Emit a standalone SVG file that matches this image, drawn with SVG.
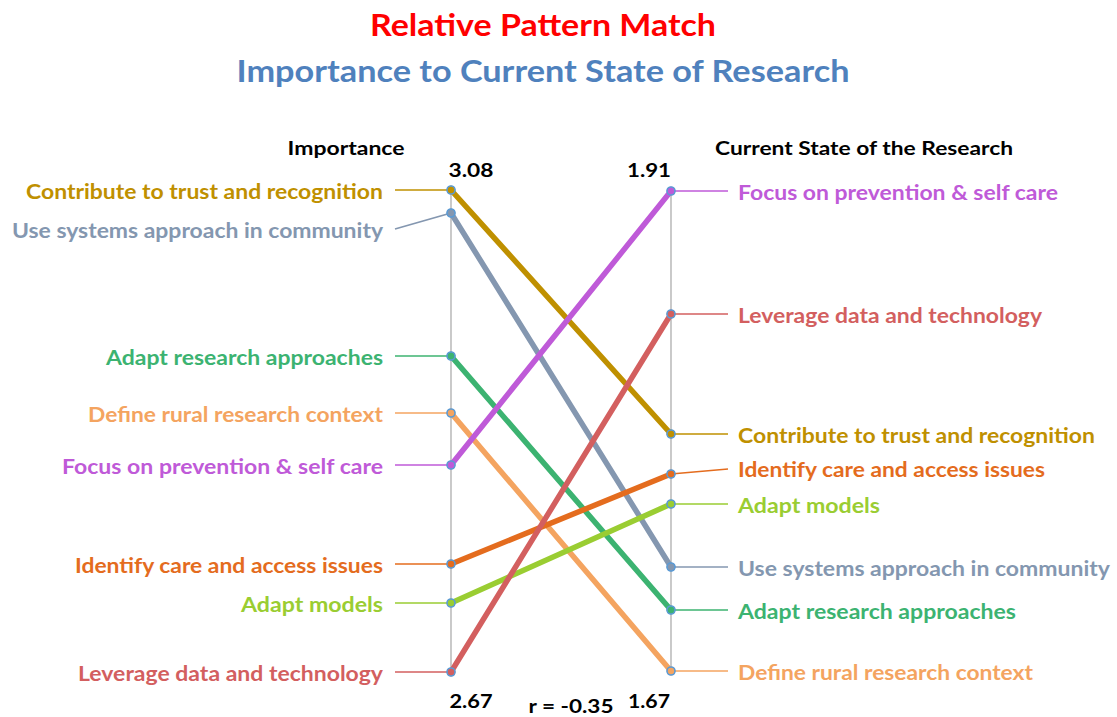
<svg xmlns="http://www.w3.org/2000/svg" width="1117" height="717" viewBox="0 0 1117 717">
<style>
text{font-family:Lato,"Open Sans","Liberation Sans",sans-serif;font-weight:bold}
.lab{font-size:20px}
.hd{font-size:18px;fill:#000}
.num{font-size:19px;fill:#000}
.ax{stroke:#A6A6A6;stroke-width:1.2;fill:none}
.slope{stroke-width:5.5;fill:none;stroke-linecap:round}
.lead{stroke-width:1.6;fill:none}
.mk{stroke:#5B9BD5;stroke-width:1.6}
.c1{stroke:#BF9000;fill:#BF9000}
.c2{stroke:#8497B0;fill:#8497B0}
.c3{stroke:#3CB371;fill:#3CB371}
.c4{stroke:#F4A460;fill:#F4A460}
.c5{stroke:#BF5AD8;fill:#BF5AD8}
.c6{stroke:#E46C1E;fill:#E46C1E}
.c7{stroke:#9ACD32;fill:#9ACD32}
.c8{stroke:#D35F5F;fill:#D35F5F}
</style>
<rect width="1117" height="717" fill="#fff"/>
<g id="title">
<text x="543" y="36" text-anchor="middle" font-size="30" fill="#FF0000" textLength="346" lengthAdjust="spacingAndGlyphs">Relative Pattern Match</text>
<text x="543" y="82" text-anchor="middle" font-size="30" fill="#4F81BD" textLength="613" lengthAdjust="spacingAndGlyphs">Importance to Current State of Research</text>
</g>
<g id="axes">
<line class="ax" x1="451" y1="190" x2="451" y2="672"/>
<line class="ax" x1="671" y1="191" x2="671" y2="672"/>
<text class="hd" x="346" y="155" text-anchor="middle" textLength="117" lengthAdjust="spacingAndGlyphs">Importance</text>
<text class="hd" x="864" y="155" text-anchor="middle" textLength="298" lengthAdjust="spacingAndGlyphs">Current State of the Research</text>
<text class="num" x="471" y="177" text-anchor="middle" textLength="45" lengthAdjust="spacingAndGlyphs">3.08</text>
<text class="num" x="649" y="177" text-anchor="middle" textLength="44" lengthAdjust="spacingAndGlyphs">1.91</text>
<text class="num" x="471" y="708" text-anchor="middle" textLength="43" lengthAdjust="spacingAndGlyphs">2.67</text>
<text class="num" x="649" y="708" text-anchor="middle" textLength="42" lengthAdjust="spacingAndGlyphs">1.67</text>
<text class="num" x="571" y="713" text-anchor="middle" textLength="85" lengthAdjust="spacingAndGlyphs">r = -0.35</text>
</g>
<g id="connectors">
<line class="lead c1" x1="395" y1="190" x2="451" y2="190"/>
<line class="lead c2" x1="395" y1="229" x2="451" y2="213"/>
<line class="lead c3" x1="395" y1="356" x2="451" y2="356"/>
<line class="lead c4" x1="395" y1="413" x2="451" y2="413"/>
<line class="lead c5" x1="395" y1="465" x2="451" y2="465"/>
<line class="lead c6" x1="395" y1="564" x2="451" y2="564"/>
<line class="lead c7" x1="395" y1="603" x2="451" y2="603"/>
<line class="lead c8" x1="395" y1="672" x2="451" y2="672"/>
<line class="lead c5" x1="671" y1="191" x2="728" y2="191"/>
<line class="lead c8" x1="671" y1="314" x2="728" y2="314"/>
<line class="lead c1" x1="671" y1="434" x2="728" y2="434"/>
<line class="lead c6" x1="671" y1="474" x2="728" y2="469"/>
<line class="lead c7" x1="671" y1="504" x2="728" y2="504"/>
<line class="lead c2" x1="671" y1="567" x2="728" y2="567"/>
<line class="lead c3" x1="671" y1="610" x2="728" y2="610"/>
<line class="lead c4" x1="671" y1="671" x2="728" y2="671"/>
<line class="slope c4" x1="451" y1="413" x2="671" y2="671"/>
<line class="slope c3" x1="451" y1="356" x2="671" y2="610"/>
<line class="slope c2" x1="451" y1="213" x2="671" y2="567"/>
<line class="slope c1" x1="451" y1="190" x2="671" y2="434"/>
<line class="slope c6" x1="451" y1="564" x2="671" y2="474"/>
<line class="slope c7" x1="451" y1="603" x2="671" y2="504"/>
<line class="slope c5" x1="451" y1="465" x2="671" y2="191"/>
<line class="slope c8" x1="451" y1="672" x2="671" y2="314"/>
</g>
<g id="markers">
<circle class="c1" cx="451" cy="190" r="4"/><circle class="mk" cx="451" cy="190" r="4" fill="none"/>
<circle class="c2" cx="451" cy="213" r="4"/><circle class="mk" cx="451" cy="213" r="4" fill="none"/>
<circle class="c3" cx="451" cy="356" r="4"/><circle class="mk" cx="451" cy="356" r="4" fill="none"/>
<circle class="c4" cx="451" cy="413" r="4"/><circle class="mk" cx="451" cy="413" r="4" fill="none"/>
<circle class="c5" cx="451" cy="465" r="4"/><circle class="mk" cx="451" cy="465" r="4" fill="none"/>
<circle class="c6" cx="451" cy="564" r="4"/><circle class="mk" cx="451" cy="564" r="4" fill="none"/>
<circle class="c7" cx="451" cy="603" r="4"/><circle class="mk" cx="451" cy="603" r="4" fill="none"/>
<circle class="c8" cx="451" cy="672" r="4"/><circle class="mk" cx="451" cy="672" r="4" fill="none"/>
<circle class="c5" cx="671" cy="191" r="4"/><circle class="mk" cx="671" cy="191" r="4" fill="none"/>
<circle class="c8" cx="671" cy="314" r="4"/><circle class="mk" cx="671" cy="314" r="4" fill="none"/>
<circle class="c1" cx="671" cy="434" r="4"/><circle class="mk" cx="671" cy="434" r="4" fill="none"/>
<circle class="c6" cx="671" cy="474" r="4"/><circle class="mk" cx="671" cy="474" r="4" fill="none"/>
<circle class="c7" cx="671" cy="504" r="4"/><circle class="mk" cx="671" cy="504" r="4" fill="none"/>
<circle class="c2" cx="671" cy="567" r="4"/><circle class="mk" cx="671" cy="567" r="4" fill="none"/>
<circle class="c3" cx="671" cy="610" r="4"/><circle class="mk" cx="671" cy="610" r="4" fill="none"/>
<circle class="c4" cx="671" cy="671" r="4"/><circle class="mk" cx="671" cy="671" r="4" fill="none"/>
</g>
<g id="left-labels" text-anchor="end">
<text id="l-trust" class="lab" x="383" y="199" fill="#BF9000" textLength="357" lengthAdjust="spacingAndGlyphs">Contribute to trust and recognition</text>
<text id="l-systems" class="lab" x="383" y="238" fill="#8497B0" textLength="371" lengthAdjust="spacingAndGlyphs">Use systems approach in community</text>
<text id="l-approaches" class="lab" x="383" y="365" fill="#3CB371" textLength="277" lengthAdjust="spacingAndGlyphs">Adapt research approaches</text>
<text id="l-rural" class="lab" x="383" y="422" fill="#F4A460" textLength="295" lengthAdjust="spacingAndGlyphs">Define rural research context</text>
<text id="l-focus" class="lab" x="383" y="474" fill="#BF5AD8" textLength="321" lengthAdjust="spacingAndGlyphs">Focus on prevention &amp; self care</text>
<text id="l-identify" class="lab" x="383" y="573" fill="#E46C1E" textLength="308" lengthAdjust="spacingAndGlyphs">Identify care and access issues</text>
<text id="l-models" class="lab" x="383" y="612" fill="#9ACD32" textLength="142" lengthAdjust="spacingAndGlyphs">Adapt models</text>
<text id="l-leverage" class="lab" x="383" y="681" fill="#D35F5F" textLength="305" lengthAdjust="spacingAndGlyphs">Leverage data and technology</text>
</g>
<g id="right-labels">
<text id="r-focus" class="lab" x="738" y="200" fill="#BF5AD8" textLength="320" lengthAdjust="spacingAndGlyphs">Focus on prevention &amp; self care</text>
<text id="r-leverage" class="lab" x="738" y="323" fill="#D35F5F" textLength="304" lengthAdjust="spacingAndGlyphs">Leverage data and technology</text>
<text id="r-trust" class="lab" x="738" y="443" fill="#BF9000" textLength="357" lengthAdjust="spacingAndGlyphs">Contribute to trust and recognition</text>
<text id="r-identify" class="lab" x="738" y="477" fill="#E46C1E" textLength="307" lengthAdjust="spacingAndGlyphs">Identify care and access issues</text>
<text id="r-models" class="lab" x="738" y="513" fill="#9ACD32" textLength="142" lengthAdjust="spacingAndGlyphs">Adapt models</text>
<text id="r-systems" class="lab" x="738" y="576" fill="#8497B0" textLength="372" lengthAdjust="spacingAndGlyphs">Use systems approach in community</text>
<text id="r-approaches" class="lab" x="738" y="619" fill="#3CB371" textLength="278" lengthAdjust="spacingAndGlyphs">Adapt research approaches</text>
<text id="r-rural" class="lab" x="738" y="680" fill="#F4A460" textLength="295" lengthAdjust="spacingAndGlyphs">Define rural research context</text>
</g>
</svg>
